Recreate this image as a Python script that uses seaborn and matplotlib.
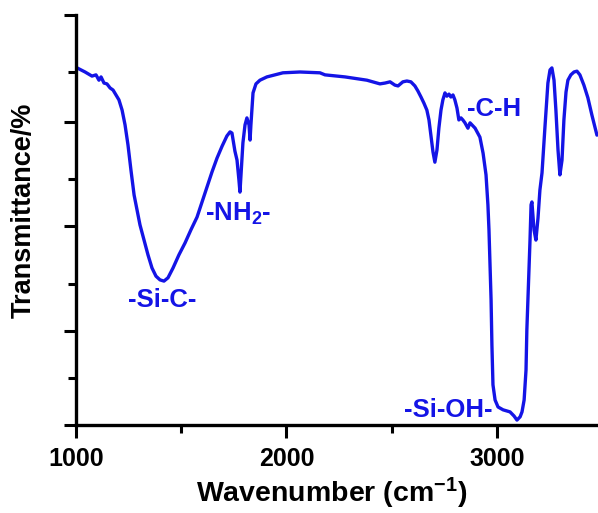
import numpy as np
import pandas as pd
import seaborn as sns
import matplotlib
matplotlib.use("Agg")
import matplotlib.pyplot as plt
from matplotlib.ticker import MultipleLocator

wavenumber = [
    1005, 1043, 1076, 1095, 1109, 1119, 1133, 1147, 1162, 1176, 1190, 1204, 1219, 1233, 1247,
    1261, 1276, 1290, 1304, 1323, 1342, 1361, 1380, 1399, 1418, 1437, 1461, 1489, 1518, 1546,
    1575, 1599, 1622, 1646, 1670, 1694, 1717, 1732, 1741, 1755, 1765, 1774, 1779, 1784, 1793,
    1803, 1812, 1822, 1827, 1831, 1841, 1855, 1874, 1907, 1983, 2064, 2159, 2183, 2278, 2382,
    2444, 2468, 2492, 2515, 2530, 2553, 2572, 2591, 2610, 2624, 2639, 2653, 2667, 2677, 2686,
    2696, 2705, 2715, 2724, 2734, 2743, 2753, 2762, 2772, 2781, 2791, 2800, 2810, 2819, 2829,
    2838, 2848, 2862, 2872, 2896, 2919, 2934, 2948, 2957, 2962, 2967, 2972, 2976, 2981, 2991,
    3005, 3029, 3062, 3081, 3095, 3110, 3119, 3129, 3138, 3142, 3147, 3157, 3162, 3166, 3176,
    3185, 3195, 3204, 3214, 3228, 3242, 3252, 3261, 3271, 3280, 3290, 3299, 3309, 3318, 3328,
    3337, 3351, 3366, 3380, 3394, 3413, 3432, 3451, 3475,
]
transmittance = [
    87.1, 86.1, 85.1, 85.4, 84.1, 84.9, 83.4, 83.2, 82.2, 81.7, 80.5, 79.3, 76.8, 73.2, 68.3,
    62.2, 56.1, 52.4, 48.8, 45.1, 41.5, 38.3, 36.3, 35.4, 35.1, 35.9, 38.3, 41.5, 44.4, 47.6,
    50.7, 54.4, 58.0, 61.7, 65.1, 68.0, 70.5, 71.5, 71.2, 66.8, 64.6, 59.8, 56.8, 61.0, 68.8,
    73.2, 74.9, 73.2, 69.5, 73.2, 81.0, 83.2, 84.1, 84.9, 85.9, 86.1, 85.9, 85.4, 84.9, 84.1,
    83.2, 83.4, 83.7, 82.9, 82.7, 83.7, 83.9, 83.7, 82.7, 81.5, 80.0, 78.5, 76.8, 74.4, 70.7,
    66.6, 64.1, 67.1, 72.4, 76.8, 79.3, 81.0, 80.2, 80.7, 80.0, 80.5, 79.3, 77.3, 74.4, 74.9,
    74.4, 73.7, 72.4, 73.7, 72.4, 70.2, 66.3, 61.0, 53.7, 47.6, 39.0, 30.5, 19.5, 9.8, 6.1,
    4.4, 3.7, 3.2, 2.2, 1.2, 2.0, 3.2, 6.1, 13.4, 23.2, 30.5, 45.1, 53.7, 54.4, 47.6,
    45.1, 50.5, 57.3, 61.5, 72.7, 83.4, 86.6, 87.1, 84.1, 76.8, 67.1, 61.0, 64.6, 74.4, 81.2,
    84.1, 85.4, 86.1, 86.3, 85.4, 82.9, 79.8, 75.6, 70.7,
]

labels = ["-Si-C-", "-NH$_2$-", "-C-H", "-Si-OH-"]
label_x = [1409, 1770, 2857, 2978]
label_y = [30.5, 51.5, 77.0, 3.7]
label_ha = ["center", "center", "left", "right"]

xticks = [1000, 2000, 3000]
yticks_major = [0, 23, 48.5, 74, 100]
yticks_minor = [11.5, 34.5, 60, 86]

sns.set_style("ticks")
plt.rcParams["font.family"] = ["Liberation Sans", "DejaVu Sans"]
plt.rcParams["mathtext.fontset"] = "custom"
plt.rcParams["mathtext.rm"] = "Liberation Sans:bold"
plt.rcParams["mathtext.default"] = "rm"
plt.rcParams["text.color"] = "black"
plt.rcParams["axes.labelcolor"] = "black"
plt.rcParams["axes.edgecolor"] = "black"
plt.rcParams["xtick.color"] = "black"
plt.rcParams["ytick.color"] = "black"

blue = "#1414E6"
fig = plt.figure(figsize=(5.98, 5.13), dpi=100)
ax = fig.add_axes([76 / 598, 1 - 425 / 513, 522 / 598, 410 / 513])

df = pd.DataFrame({"wn": wavenumber, "T": transmittance})
sns.lineplot(data=df, x="wn", y="T", sort=False, estimator=None, color=blue, lw=2.4, ax=ax)

for t, x, y, ha in zip(labels, label_x, label_y, label_ha):
    ax.text(x, y, t, color=blue, fontsize=18.5, fontweight="bold", ha=ha, va="center")

ax.set_xlim(1000, 3480)
ax.set_ylim(0, 100)
ax.set_xticks(xticks)
ax.xaxis.set_minor_locator(MultipleLocator(500))
ax.set_yticks(yticks_major)
ax.set_yticks(yticks_minor, minor=True)
ax.set_yticklabels([])
ax.tick_params(axis="x", labelsize=18, width=2.2, length=9, direction="out", pad=7, colors="black")
ax.tick_params(axis="y", width=2.2, length=9, direction="out", colors="black")
ax.tick_params(which="minor", width=2.2, length=6, direction="out", colors="black")
for lab in ax.get_xticklabels():
    lab.set_fontweight("bold")
for s in ["left", "bottom"]:
    ax.spines[s].set_linewidth(2.4)
    ax.spines[s].set_color("black")
sns.despine(ax=ax)
ax.set_xlabel("Wavenumber (cm$^{-1}$)", fontsize=20.5, fontweight="bold", color="black")
ax.set_ylabel("Transmittance/%", fontsize=19.5, fontweight="bold", color="black")
ax.xaxis.set_label_coords((332 - 76) / 522, -(493 - 425) / 410)
ax.yaxis.set_label_coords(-(76 - 24) / 522, (425 - 210) / 410)
ax.xaxis.label.set_va("center")
ax.yaxis.label.set_va("center")

fig.savefig("out.png", dpi=100)
